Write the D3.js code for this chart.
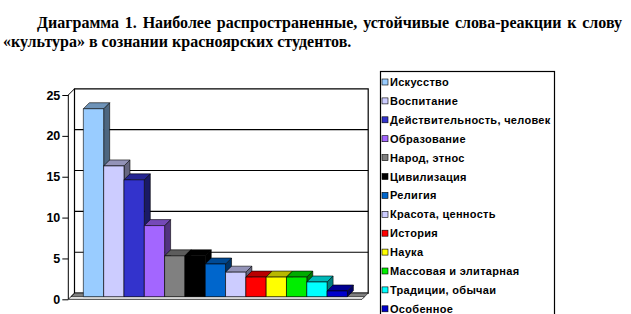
<!DOCTYPE html>
<html>
<head>
<meta charset="utf-8">
<script src="https://cdn.jsdelivr.net/npm/d3@7"></script>
<style>
html,body{margin:0;padding:0;background:#fff;}
svg{display:block;}
</style>
</head>
<body>
<svg id="chart" width="631" height="314"></svg>
<script>
const titleLines = [
  "Диаграмма 1. Наиболее распространенные, устойчивые слова-реакции к слову",
  "«культура» в сознании красноярских студентов."
];
const categories = ["Искусство","Воспитание","Действительность, человек","Образование","Народ, этнос","Цивилизация","Религия","Красота, ценность","История","Наука","Массовая и элитарная","Традиции, обычаи","Особенное"];
const values = [23, 16, 14.3, 8.7, 5, 5, 4, 3, 2.4, 2.4, 2.4, 1.8, 0.7];
const colors = ["#99CCFF","#CCCCFF","#3333CC","#A366FF","#808080","#000000","#0066CC","#CCCCFF","#FF0000","#FFFF00","#00EE00","#00FFFF","#0000CC"];
const yTicks = [0, 5, 10, 15, 20, 25];

const svg = d3.select("#chart");

// ---- Title ----
const tfont = "'Liberation Serif','Times New Roman',serif";
const tsize = 16;
function justifyLine(text, x0, x1, yb) {
  const words = text.split(" ");
  const g = svg.append("g");
  const widths = words.map(w => {
    const t = g.append("text").attr("font-family", tfont).attr("font-weight", "bold")
      .attr("font-size", tsize).text(w);
    const wd = t.node().getComputedTextLength();
    t.remove();
    return wd;
  });
  const total = d3.sum(widths);
  const gap = (x1 - x0 - total) / (words.length - 1);
  let xx = x0;
  words.forEach((w, i) => {
    g.append("text").attr("x", xx).attr("y", yb).attr("font-family", tfont)
      .attr("font-weight", "bold").attr("font-size", tsize).attr("fill", "#000").text(w);
    xx += widths[i] + gap;
  });
}
justifyLine(titleLines[0], 37, 622, 28);
svg.append("text").attr("x", 3).attr("y", 47).attr("font-family", tfont)
  .attr("font-weight", "bold").attr("font-size", tsize).attr("fill", "#000").text(titleLines[1]);

// ---- 3D chart ----
const D = 6.2;
const y = d3.scaleLinear().domain([0, 25]).range([299.3, 95]);
const x = d3.scaleBand().domain(categories).range([68.3, 362])
  .paddingInner(0).paddingOuter(0.73).align(0.42);
const proj = (px, v, z) => [px + z * D, y(v) - z * D];
const axisLeft = x.range()[0], axisRight = x.range()[1];

const plot = svg.append("g");
const line = d3.line();

const wallPts = [proj(axisLeft, 0, 1), proj(axisLeft, 25, 1), proj(axisRight, 25, 1), proj(axisRight, 0, 1)];
plot.append("path").attr("d", line(wallPts) + "Z").attr("fill", "#fff").attr("stroke", "#000").attr("stroke-width", 1.2);
plot.selectAll(".grid").data(yTicks.slice(1, -1)).enter().append("path")
  .attr("d", d => line([proj(axisLeft, d, 1), proj(axisRight, d, 1)]))
  .attr("stroke", "#000").attr("stroke-width", 1.2);

const zb0 = 0.42, zb1 = 0.42 + 6 / D;
const floorPts = [proj(axisLeft, 0, zb0), proj(axisLeft, 0, 1), proj(axisRight, 0, 1), proj(axisRight, 0, zb0)];
plot.append("path").attr("d", line(floorPts) + "Z").attr("fill", "#808080").attr("stroke", "#000").attr("stroke-width", 0.6);

const darker = (c, k) => { const r = d3.rgb(c); return d3.rgb(r.r * k, r.g * k, r.b * k).toString(); };
const bars = plot.selectAll(".bar").data(categories).enter().append("g");
bars.each(function(cat, i) {
  const g = d3.select(this);
  const x0 = x(cat), x1 = x(cat) + x.bandwidth(), v = values[i];
  const front = [proj(x0, 0, zb0), proj(x0, v, zb0), proj(x1, v, zb0), proj(x1, 0, zb0)];
  const top = [proj(x0, v, zb0), proj(x0, v, zb1), proj(x1, v, zb1), proj(x1, v, zb0)];
  const side = [proj(x1, 0, zb0), proj(x1, v, zb0), proj(x1, v, zb1), proj(x1, 0, zb1)];
  g.append("path").attr("d", line(side) + "Z").attr("fill", darker(colors[i], 0.5)).attr("stroke", "#000").attr("stroke-width", 0.6);
  g.append("path").attr("d", line(top) + "Z").attr("fill", darker(colors[i], 0.72)).attr("stroke", "#000").attr("stroke-width", 0.6);
  g.append("path").attr("d", line(front) + "Z").attr("fill", colors[i]).attr("stroke", "#000").attr("stroke-width", 0.6);
});

plot.append("path").attr("d", line([proj(axisLeft, 0, 0), proj(axisLeft, 25, 0), proj(axisLeft, 25, 1)]))
  .attr("fill", "none").attr("stroke", "#000").attr("stroke-width", 1);
plot.append("path").attr("d", line([proj(axisLeft, 0, 0), proj(axisLeft, 0, 1)]))
  .attr("fill", "none").attr("stroke", "#000").attr("stroke-width", 0.8);
plot.append("path").attr("d", line([proj(axisLeft, 0, 0), proj(axisRight, 0, 0), proj(axisRight, 0, zb0)]))
  .attr("fill", "none").attr("stroke", "#000").attr("stroke-width", 0.8);

const yAxis = d3.axisLeft(y).tickValues(yTicks).tickSize(6).tickPadding(2).tickFormat(d3.format("d"));
const ya = svg.append("g").attr("transform", `translate(${axisLeft},0)`).call(yAxis);
ya.select(".domain").remove();
ya.selectAll("line").attr("stroke", "#000");
ya.selectAll("text").attr("font-family", "'Liberation Sans',Arial,sans-serif")
  .attr("font-weight", "bold").attr("font-size", 12.5).attr("fill", "#000");

// ---- Legend ----
const lg = svg.append("g");
const lx = 380.5, ly = 71.5, step = 18.9;
lg.append("rect").attr("x", lx).attr("y", ly).attr("width", 174).attr("height", 260)
  .attr("fill", "#fff").attr("stroke", "#000").attr("stroke-width", 1.2);
const items = lg.selectAll(".li").data(categories).enter().append("g")
  .attr("transform", (d, i) => `translate(${lx + 1.5},${ly + 10.5 + i * step})`);
items.append("rect").attr("x", 0).attr("y", -3).attr("width", 6).attr("height", 6)
  .attr("fill", (d, i) => colors[i]).attr("stroke", "#000").attr("stroke-width", 0.6);
items.append("text").attr("x", 8).attr("y", 4).text(d => d)
  .attr("font-family", "'Liberation Sans',Arial,sans-serif").attr("font-weight", "bold")
  .attr("font-size", 11).attr("letter-spacing", 0.3).attr("fill", "#000");
</script>
</body>
</html>
